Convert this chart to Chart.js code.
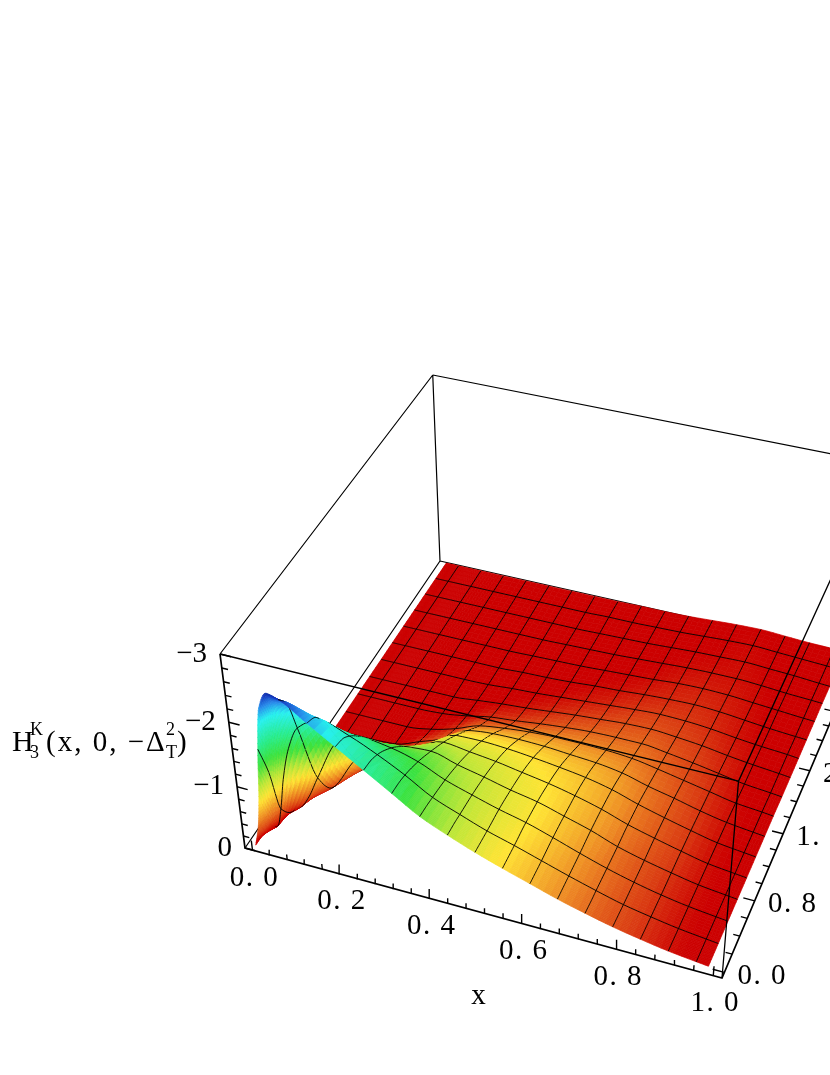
<!DOCTYPE html>
<html><head><meta charset="utf-8">
<style>html,body{margin:0;padding:0;background:#fff}canvas{display:block}</style>
<script src="https://cdn.jsdelivr.net/npm/chart.js@4/dist/chart.umd.js"></script>
</head><body><canvas id="c" width="830" height="1075"></canvas>
<script>
// ---- data ----
const xGrid=[0,.012,.02,.032,.045,.065,.09,.148,.206,.264,.322,.38,.438,.496,.554,.612,.67,.728,.786,.844,.902,.96,.985];
const deltaGrid=[0,.125,.25,.5,.75,1,1.25,1.5,1.75,2,2.25,2.5,2.75,3,3.25,3.5,3.75,4];
// magnitude of H (plotted as -H on the reversed vertical axis), one list per x, one value per delta
const heightsByX=[
[0,0,0,0,0,0,0,0,0,0,0,0,0,0,0,0,0,0],
[.35,.08,0,0,0,0,0,0,0,0,0,0,0,0,0,0,0,0],
[.75,.30,.02,0,0,0,0,0,0,0,0,0,0,0,0,0,0,0],
[1.60,1.08,.33,.01,0,0,0,0,0,0,0,0,0,0,0,0,0,0],
[2.25,1.75,.83,.06,.01,0,0,0,0,0,0,0,0,0,0,0,0,0],
[2.50,2.15,1.36,.26,.04,0,0,0,0,0,0,0,0,0,0,0,0,0],
[2.45,2.24,1.72,.62,.14,.03,0,0,0,0,0,0,0,0,0,0,0,0],
[2.20,2.13,1.93,1.32,.70,.28,.09,.02,0,0,0,0,0,0,0,0,0,0],
[1.95,1.91,1.80,1.46,1.03,.63,.33,.16,.06,.02,0,0,0,0,0,0,0,0],
[1.70,1.68,1.62,1.41,1.12,.81,.53,.31,.17,.08,.04,.01,0,0,0,0,0,0],
[1.45,1.44,1.41,1.30,1.15,.98,.78,.55,.32,.16,.08,.04,.02,.01,0,0,0,0],
[1.20,1.19,1.17,1.12,1.04,.93,.79,.60,.38,.20,.11,.06,.03,.02,.01,0,0,0],
[1.02,1.02,1.01,.99,.95,.88,.77,.61,.42,.25,.15,.09,.05,.03,.02,.01,.01,0],
[.86,.86,.86,.87,.85,.81,.73,.60,.44,.29,.19,.12,.08,.05,.03,.02,.01,.01],
[.72,.73,.74,.77,.77,.74,.68,.57,.44,.32,.22,.15,.10,.07,.05,.03,.02,.01],
[.59,.60,.61,.64,.65,.65,.62,.54,.43,.33,.25,.18,.13,.09,.07,.05,.03,.02],
[.46,.47,.48,.50,.53,.54,.53,.48,.40,.33,.26,.20,.15,.12,.09,.07,.05,.04],
[.35,.35,.36,.37,.38,.40,.40,.37,.33,.28,.23,.19,.16,.13,.10,.08,.07,.06],
[.25,.25,.25,.26,.27,.29,.29,.28,.25,.22,.19,.16,.14,.12,.10,.09,.08,.07],
[.17,.17,.17,.17,.18,.19,.19,.18,.17,.15,.13,.11,.10,.09,.08,.07,.06,.05],
[.10,.10,.10,.10,.10,.10,.10,.10,.09,.08,.08,.07,.06,.06,.05,.05,.04,.03],
[.05,.05,.05,.05,.05,.05,.05,.05,.05,.04,.04,.04,.03,.03,.03,.02,.02,.02],
[.03,.03,.03,.03,.03,.03,.03,.03,.03,.02,.02,.02,.02,.02,.02,.01,.01,.01]];
const meshX=[.032,.09,.148,.206,.264,.322,.38,.438,.496,.554,.612,.67,.728,.786,.844,.902,.96];
const meshDelta=[.25,.5,.75,1,1.25,1.5,1.75,2,2.25,2.5,2.75,3,3.25,3.5,3.75];
const xTickLabels=['0. 0','0. 2','0. 4','0. 6','0. 8','1. 0'];
const xTickValues=[0,.2,.4,.6,.8,1];
const deltaTickLabels=['0. 0','0. 8','1. 6','2. 4','3. 2','4. 0'];
const deltaTickValues=[0,.8,1.6,2.4,3.2,4];
const heightTickLabels=['0','−1','−2','−3'];
const heightTickValues=[0,1,2,3];
const colorStops=[[0,204,0,0],[.07,204,0,0],[.2,218,60,18],[.45,238,140,36],[.75,255,228,52],[1.0,190,230,55],[1.33,60,226,60],[1.65,40,236,140],[2.03,40,240,240],[2.25,40,140,235],[2.45,20,55,190],[2.55,0,30,130]];

// ---- view of the box ----
const O=[245,848],X=[722,978],Y=[440,561],Z=[220,654],gg=-.065,hh=.16,ii=-.078;
const dirOf=(P,k)=>[(1+k)*P[0]-O[0],(1+k)*P[1]-O[1]];
const A=dirOf(X,gg),B=dirOf(Y,hh),C=dirOf(Z,ii);
const boxU=x=>(x+.0173)/1.035, boxV=d=>(d+.06)/4.07, boxW=h=>h/3;
function proj(u,v,w){const D=1+gg*u+hh*v+ii*w;
  return {x:(O[0]+A[0]*u+B[0]*v+C[0]*w)/D,y:(O[1]+A[1]*u+B[1]*v+C[1]*w)/D,D};}
const P3=(x,d,h)=>proj(boxU(x),boxV(d),boxW(h));

// monotone cubic through a table, used to draw smooth facets between the read nodes
function slopes(xs,ys){const n=xs.length,s=[],m=new Array(n);
  for(let k=0;k<n-1;k++)s[k]=(ys[k+1]-ys[k])/(xs[k+1]-xs[k]);
  m[0]=s[0];m[n-1]=s[n-2];
  for(let k=1;k<n-1;k++){if(s[k-1]*s[k]<=0)m[k]=0;else{const a=xs[k]-xs[k-1],b=xs[k+1]-xs[k];
    m[k]=3*(a+b)/((2*b+a)/s[k-1]+(b+2*a)/s[k]);}}
  return m;}
function evalCurve(xs,ys,m,t){let k=0;while(k<xs.length-2&&t>xs[k+1])k++;
  const w=xs[k+1]-xs[k],r=(t-xs[k])/w,r2=r*r,r3=r2*r;
  return (2*r3-3*r2+1)*ys[k]+(r3-2*r2+r)*w*m[k]+(-2*r3+3*r2)*ys[k+1]+(r3-r2)*w*m[k+1];}
function refine(g,fn){const o=[];for(let k=0;k<g.length-1;k++){const n=fn(g[k]);for(let j=0;j<n;j++)o.push(g[k]+(g[k+1]-g[k])*j/n);}o.push(g[g.length-1]);return o;}
const fineX=refine(xGrid,v=>v<.148?8:4), fineD=refine(deltaGrid,v=>v<1?8:4);
const near=(a,b)=>Math.abs(a-b)<1e-9;
const cols=heightsByX.map(c=>{const m=slopes(deltaGrid,c);return fineD.map(t=>Math.max(0,evalCurve(deltaGrid,c,m,t)));});
const H=fineD.map((_,j)=>{const row=cols.map(c=>c[j]),m=slopes(xGrid,row);return fineX.map(t=>Math.max(0,evalCurve(xGrid,row,m,t)));});
function colorOf(h){for(let k=1;k<colorStops.length;k++){if(h<=colorStops[k][0]){const a=colorStops[k-1],b=colorStops[k],f=(h-a[0])/(b[0]-a[0]);
  return `rgb(${Math.round(a[1]+(b[1]-a[1])*f)},${Math.round(a[2]+(b[2]-a[2])*f)},${Math.round(a[3]+(b[3]-a[3])*f)})`;}}return 'rgb(0,30,130)';}

// ---- facets and mesh pieces, far to near ----
const items=[];
for(let j=0;j<fineD.length-1;j++)for(let i=0;i<fineX.length-1;i++){
  const p=[P3(fineX[i],fineD[j],H[j][i]),P3(fineX[i+1],fineD[j],H[j][i+1]),P3(fineX[i+1],fineD[j+1],H[j+1][i+1]),P3(fineX[i],fineD[j+1],H[j+1][i])];
  items.push({pts:p,D:(p[0].D+p[1].D+p[2].D+p[3].D)/4,color:colorOf((H[j][i]+H[j][i+1]+H[j+1][i]+H[j+1][i+1])/4)});
}
for(let j=0;j<fineD.length;j++){if(!meshDelta.some(m=>near(m,fineD[j])))continue;
  for(let i=0;i<fineX.length-1;i++){const p=[P3(fineX[i],fineD[j],H[j][i]),P3(fineX[i+1],fineD[j],H[j][i+1])];
    items.push({pts:p,D:(p[0].D+p[1].D)/2-.004,line:true});}}
for(let i=0;i<fineX.length;i++){if(!meshX.some(m=>near(m,fineX[i])))continue;
  for(let j=0;j<fineD.length-1;j++){const p=[P3(fineX[i],fineD[j],H[j][i]),P3(fineX[i],fineD[j+1],H[j+1][i])];
    items.push({pts:p,D:(p[0].D+p[1].D)/2-.004,line:true});}}
items.sort((a,b)=>b.D-a.D);
const surfacePoints=[];items.forEach(it=>{it.start=surfacePoints.length;it.pts.forEach(q=>surfacePoints.push({x:q.x,y:q.y}));});

// ---- box edges and ticks ----
const gap={x:NaN,y:NaN};
const seg=(...ps)=>[...ps.map(p=>({x:p.x,y:p.y})),gap];
const c=(u,v,w)=>proj(u,v,w);
const backEdges=[...seg(c(0,0,0),c(0,1,0)),...seg(c(0,1,0),c(1,1,0)),...seg(c(0,1,0),c(0,1,1)),...seg(c(0,0,1),c(0,1,1)),...seg(c(0,1,1),c(1,1,1)),...seg(c(1,1,0),c(1,1,1))];
const frontEdges=[...seg(c(0,0,1),c(1,0,1)),...seg(c(1,0,1),c(1,1,1)),...seg(c(1,0,0),c(1,0,1))];
const axisEdges=[...seg(c(0,0,1),c(0,0,0),c(1,0,0),c(1,1,0))];
const tickMarks=[];
for(let k=0;k<=25;k++){const x=k*.04,mj=k%5===0,u=boxU(x);tickMarks.push(...seg(c(u,0,0),c(u,0,mj?.052:.028)));}
for(let k=0;k<=15;k++){const h=k*.2,mj=k%5===0,w=boxW(h);tickMarks.push(...seg(c(0,0,w),c(mj?.023:.013,0,w)));}
for(let k=0;k<=20;k++){const d=k*.2,mj=k%4===0,v=boxV(d);tickMarks.push(...seg(c(1,v,0),c(mj?.977:.987,v,0)));}
const ln=(data,width,order)=>({data,borderColor:'#000',borderWidth:width,pointRadius:0,order,spanGaps:false,tension:0,fill:false});

const SERIF='"Liberation Serif"';
const facetPlugin={id:'facets',beforeDatasetDraw(chart,args){
  const ds=chart.data.datasets[args.index];if(ds.label!=='surface')return;
  const pts=args.meta.data,ctx=chart.ctx;ctx.save();ctx.lineJoin='round';
  for(const it of items){const n=it.pts.length,s=it.start;ctx.beginPath();ctx.moveTo(pts[s].x,pts[s].y);
    for(let k=1;k<n;k++)ctx.lineTo(pts[s+k].x,pts[s+k].y);
    if(it.line){ctx.strokeStyle='#000';ctx.lineWidth=.9;ctx.stroke();}
    else{ctx.closePath();ctx.fillStyle=it.color;ctx.fill();ctx.strokeStyle=it.color;ctx.lineWidth=.7;ctx.stroke();}}
  ctx.restore();}};
const textPlugin={id:'texts',afterDatasetsDraw(chart){
  const ctx=chart.ctx,sx=chart.scales.x,sy=chart.scales.y;
  const put=(pt,dx,dy,t,align)=>{ctx.textAlign=align;ctx.fillText(t,sx.getPixelForValue(pt.x)+dx,sy.getPixelForValue(pt.y)+dy);};
  ctx.save();ctx.fillStyle='#000';ctx.textBaseline='middle';ctx.font='29px '+SERIF;ctx.letterSpacing='1.5px';
  xTickValues.forEach((v,k)=>put(c(boxU(v),0,0),2,28,xTickLabels[k],'center'));
  deltaTickValues.forEach((v,k)=>put(c(1,boxV(v),0),38,4,deltaTickLabels[k],'center'));
  ctx.letterSpacing='0px';
  heightTickValues.forEach((v,k)=>put(c(0,0,boxW(v)),-13,0,heightTickLabels[k],'right'));
  put(c(boxU(.5),0,0),3,86,'x','center');
  ctx.textBaseline='alphabetic';ctx.textAlign='left';
  ctx.font='30px '+SERIF;ctx.fillText('H',12,751);
  ctx.font='18px '+SERIF;ctx.fillText('K',30,735);ctx.fillText('3',30,758);
  ctx.font='29px '+SERIF;ctx.letterSpacing='2px';ctx.fillText('(x, 0, −Δ',46,751);ctx.letterSpacing='0px';
  ctx.font='18px '+SERIF;ctx.fillText('2',166,735);ctx.fillText('T',166,758);
  ctx.font='29px '+SERIF;ctx.fillText(')',177,751);
  ctx.restore();}};

new Chart(document.getElementById('c'),{type:'line',
 data:{datasets:[
  ln(backEdges,1.2,3),
  {label:'surface',data:surfacePoints,showLine:false,pointRadius:0,order:2},
  ln(frontEdges,1.3,1),ln(axisEdges,1.7,1),ln(tickMarks,1.4,1)]},
 options:{responsive:false,animation:false,events:[],
  layout:{padding:0},
  plugins:{legend:{display:false},tooltip:{enabled:false},title:{display:false}},
  scales:{x:{type:'linear',min:0,max:830,display:false},y:{type:'linear',min:0,max:1075,reverse:true,display:false}}},
 plugins:[facetPlugin,textPlugin]});
</script></body></html>
